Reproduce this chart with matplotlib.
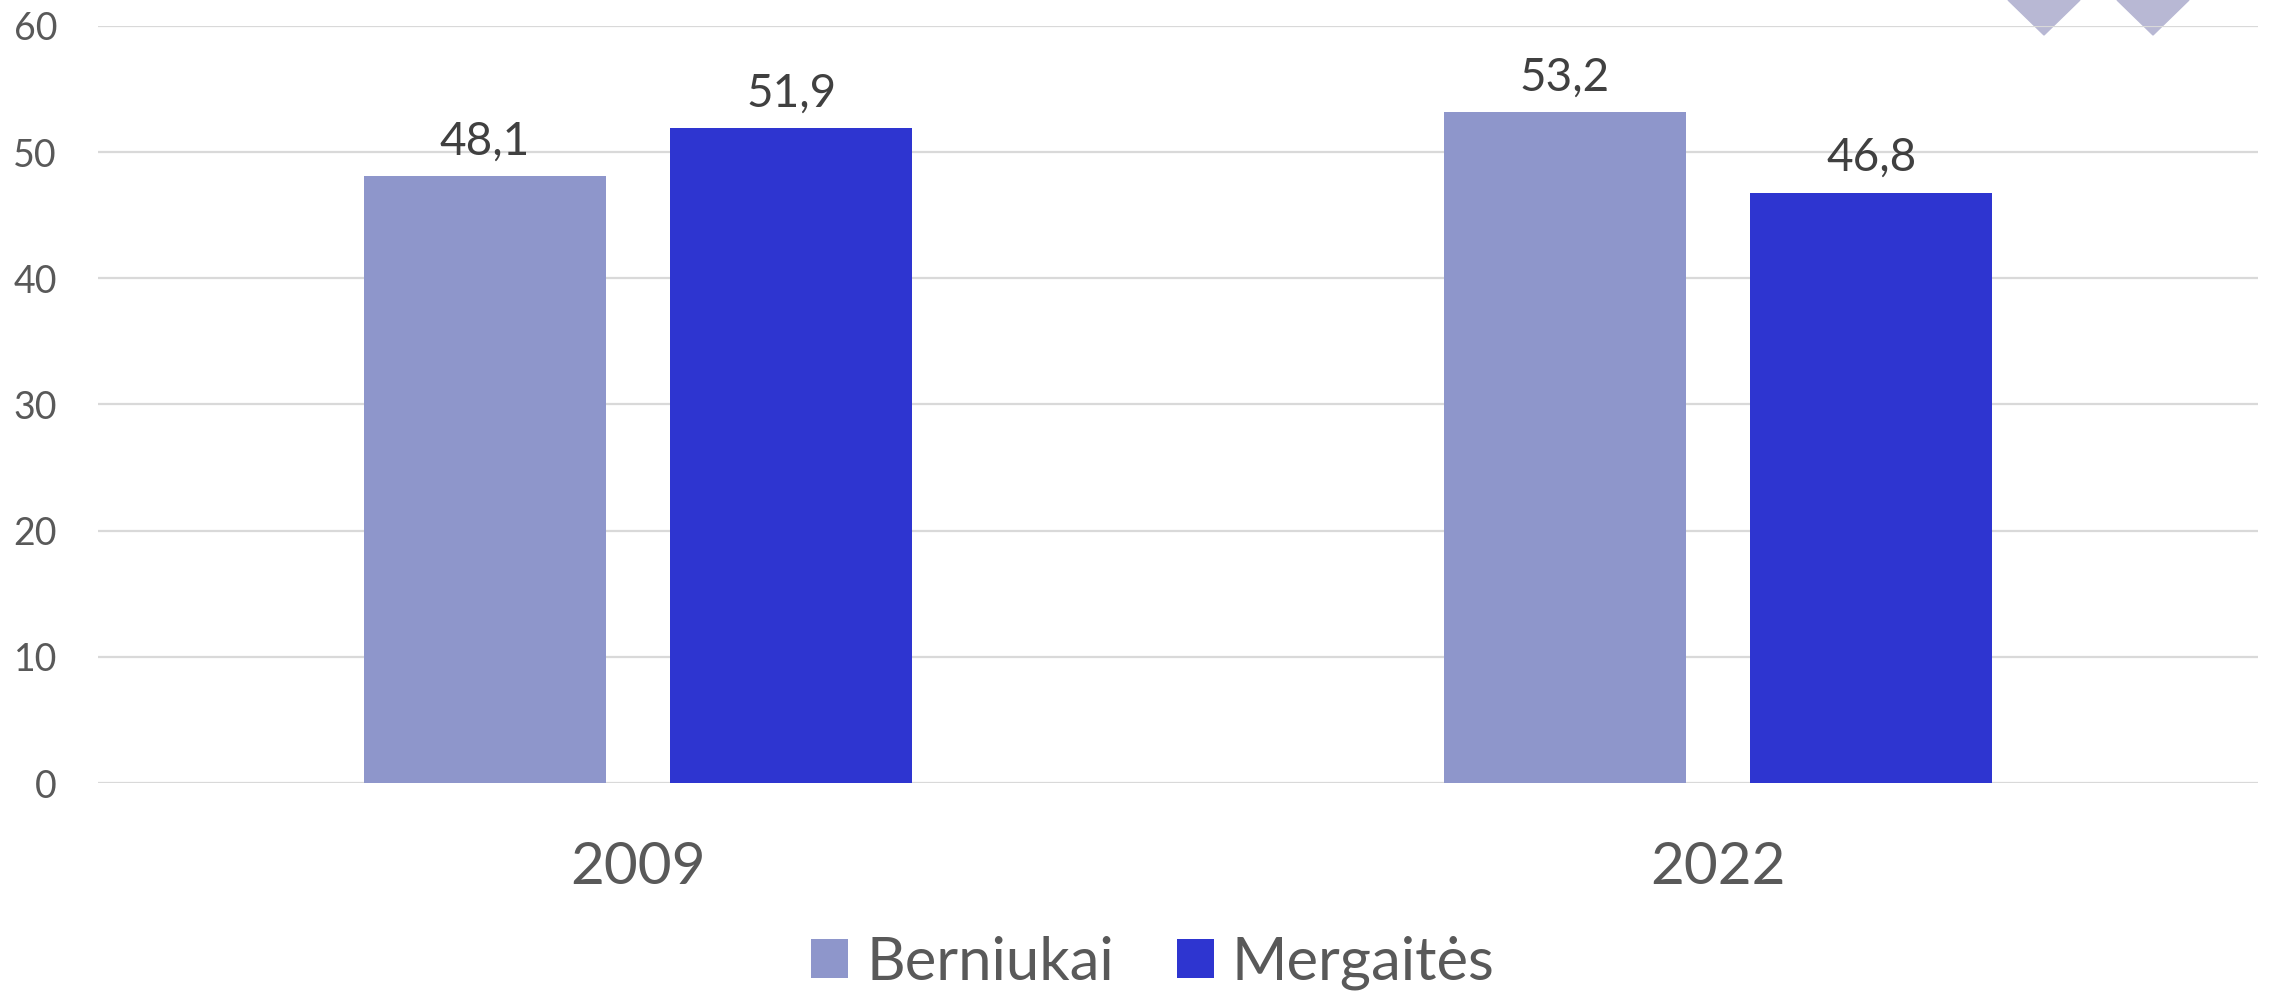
import numpy as np
import matplotlib
matplotlib.use("Agg")
import matplotlib.pyplot as plt
from matplotlib.patches import Polygon

plt.rcParams["font.family"] = ["Lato", "DejaVu Sans"]

years = ["2009", "2022"]
berniukai = [48.1, 53.2]
mergaites = [51.9, 46.8]
series_names = ["Berniukai", "Mergaitės"]
y_ticks = [0, 10, 20, 30, 40, 50, 60]

col_b = "#8E96CB"
col_m = "#2E35D0"
grey = "#595959"

fig = plt.figure(figsize=(22.7, 9.97), dpi=100)
ax = fig.add_axes([98 / 2270, 1 - 783 / 997, 2160 / 2270, 757 / 997])

x = np.arange(len(years))
w = 0.224
off = 0.142
bars_b = ax.bar(x - off, berniukai, w, color=col_b, label=series_names[0], zorder=2)
bars_m = ax.bar(x + off, mergaites, w, color=col_m, label=series_names[1], zorder=2)

for bars, vals in [(bars_b, berniukai), (bars_m, mergaites)]:
    for b, v in zip(bars, vals):
        ax.annotate(f"{v:.1f}".replace(".", ","),
                    (b.get_x() + b.get_width() / 2, b.get_height()),
                    xytext=(0, 15.5), textcoords="offset points",
                    ha="center", va="baseline", fontsize=33, color="#404040")

ax.set_xlim(-0.5, 1.5)
ax.set_ylim(0, 60)
ax.set_yticks(y_ticks)
ax.set_xticks(x)
ax.set_xticklabels(years)
ax.tick_params(axis="y", length=0, pad=29.5, labelsize=27, labelcolor=grey)
ax.tick_params(axis="x", length=0, pad=42, labelsize=42, labelcolor=grey)
ax.yaxis.grid(True, color="#D9D9D9", linewidth=1.6)
ax.set_axisbelow(True)
for s in ax.spines.values():
    s.set_visible(False)
ax.set_facecolor("none")

# cut-off decoration at top right
for cx in [2044, 2153]:
    tri = Polygon([[(cx - 36) / 2270, 1.0], [(cx + 36) / 2270, 1.0],
                   [cx / 2270, 1 - 35 / 997]], closed=True,
                  transform=fig.transFigure, color="#B8B8D4", zorder=0.3, clip_on=False)
    ax.add_patch(tri)

leg = fig.legend(loc="center", bbox_to_anchor=(1153 / 2270, 1 - 963 / 997), ncol=2,
                 frameon=False, fontsize=43, handlelength=0.62, handleheight=0.62,
                 handletextpad=0.3, columnspacing=1.05)
for t in leg.get_texts():
    t.set_color(grey)

fig.savefig("out.png", dpi=100)
